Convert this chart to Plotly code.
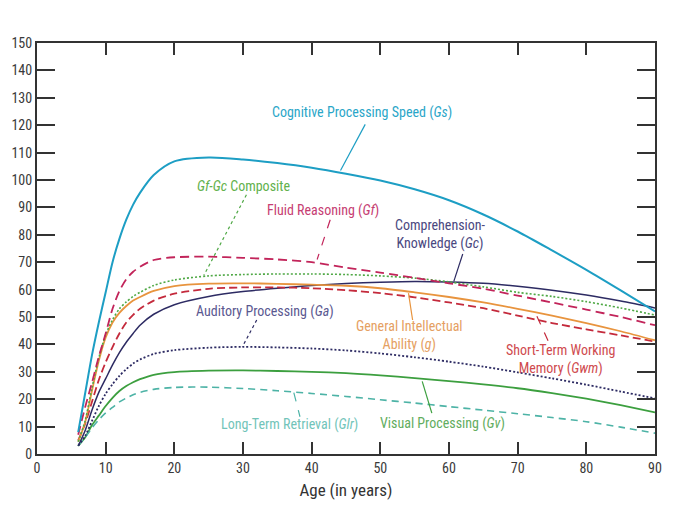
import plotly.graph_objects as go

ages = [6, 7, 8, 9, 10, 11, 12, 13, 14, 15, 17, 20, 25, 30, 35, 40, 45, 50, 55, 60, 65, 70, 75, 80, 85, 90]

gs = [8, 22, 36, 48, 59, 70, 78.5, 85.5, 91, 95.3, 101.8, 106.8, 108.2, 107.5, 106.2, 104.5, 102.3, 99.8, 96.6, 92.6, 87.4, 81.2, 74.3, 67.2, 59.7, 52]
gf = [7, 17, 26, 35.5, 44, 53, 59.5, 63.8, 66.5, 68.3, 70.8, 71.8, 72, 71.6, 71, 70, 68, 66.2, 64.3, 62.3, 60.3, 57.8, 55.3, 52.7, 50, 47]
gfgc = [4.5, 12, 24, 35, 43.5, 49, 53, 55.5, 57.5, 59, 61.5, 63.5, 65, 65.5, 65.7, 65.7, 65.5, 65, 64.2, 62.8, 61, 59, 57.5, 55.6, 53.3, 50.7]
g = [4.5, 11.5, 23, 34, 42.5, 48, 51.5, 54, 56, 57.3, 59.5, 61.3, 62.2, 62.3, 62.1, 61.8, 61.4, 60.5, 59, 57.3, 55.3, 53, 50.5, 47.8, 44.8, 41.5]
gwm = [5, 11, 19, 27, 33.5, 39, 44, 48, 50.8, 53, 56, 58.5, 60.3, 60.8, 60.8, 60.5, 59.8, 58.7, 57.2, 55.3, 53.2, 50.5, 47.8, 45.5, 43.3, 41]
gc = [3, 8.5, 16, 22.5, 27.5, 32.5, 37, 40.8, 44, 47, 51, 54.5, 57.5, 59.3, 60.5, 61.5, 62.2, 62.7, 63, 62.8, 62.3, 61.2, 59.8, 58, 55.8, 53.3]
ga = [3, 6.5, 12, 17.5, 22, 25.5, 28.5, 31, 33, 34.5, 36.5, 37.9, 38.8, 39.1, 38.9, 38.5, 37.8, 36.7, 35.3, 33.7, 31.9, 29.8, 27.6, 25.3, 22.8, 20.3]
gv = [3, 6, 10.5, 14, 17.5, 20.5, 23, 24.8, 26.2, 27.3, 28.9, 29.9, 30.4, 30.5, 30.3, 30, 29.5, 28.7, 27.7, 26.6, 25.4, 24, 22.2, 20.2, 17.8, 15.2]
glr = [3, 6, 9.5, 12.5, 15, 17, 19, 20.4, 21.6, 22.5, 23.6, 24.3, 24.4, 23.9, 23.1, 22.1, 21, 19.8, 18.6, 17.3, 16, 14.7, 13.3, 11.8, 9.8, 7.6]

# series: name, values, line colour, dash, width
series = [
    ("Gv", gv, "#3c9f3f", "solid", 1.8),
    ("Glr", glr, "#4db3a6", "7px,5px", 1.6),
    ("Ga", ga, "#2d2b63", "2px,2px", 1.8),
    ("Gc", gc, "#2d2b63", "solid", 1.5),
    ("Gwm", gwm, "#c42a3c", "8px,4px", 1.8),
    ("g", g, "#e8943e", "solid", 1.8),
    ("GfGc", gfgc, "#4fa845", "2px,2px", 1.6),
    ("Gf", gf, "#c2245a", "9px,5px", 1.8),
    ("Gs", gs, "#1d9ec4", "solid", 2.0),
]

# labels: text, age, value, colour
labels = [
    ("Cognitive Processing Speed (<i>Gs</i>)", 47.3, 124.5, "#2aa6c8"),
    ("<i>Gf-Gc</i> Composite", 30.0, 97.9, "#62b14c"),
    ("Fluid Reasoning (<i>Gf</i>)", 41.7, 88.8, "#c63d72"),
    ("Comprehension-<br>Knowledge (<i>Gc</i>)", 58.7, 80.0, "#4a4880"),
    ("Auditory Processing (<i>Ga</i>)", 33.2, 52.0, "#5a5890"),
    ("General Intellectual<br>Ability (<i>g</i>)", 54.3, 43.2, "#e5a062"),
    ("Short-Term Working<br>Memory (<i>Gwm</i>)", 76.2, 34.6, "#cf4a4e"),
    ("Visual Processing (<i>Gv</i>)", 59.0, 11.0, "#62ad5e"),
    ("Long-Term Retrieval (<i>Glr</i>)", 36.7, 10.6, "#72c4b9"),
]

# leader lines: x0, y0, x1, y1, colour, dash
leaders = [
    (47.8, 120.3, 44.2, 103.5, "#1d9ec4", "solid"),
    (30.5, 94.6, 24.3, 65.2, "#4fa845", "dot"),
    (42.7, 85.5, 40.8, 71.0, "#c2245a", "dash"),
    (62.0, 73.0, 60.7, 63.0, "#2d2b63", "solid"),
    (32.0, 48.9, 29.9, 39.1, "#2d2b63", "dot"),
    (54.1, 58.7, 54.7, 48.9, "#e8943e", "solid"),
    (72.8, 50.3, 74.7, 39.8, "#c42a3c", "dash"),
    (56.1, 26.5, 57.5, 14.9, "#3c9f3f", "solid"),
    (37.4, 22.4, 38.3, 13.6, "#4db3a6", "dash"),
]

FONT = "Roboto Condensed, Liberation Sans Narrow, DejaVu Sans Condensed, sans-serif"

fig = go.Figure()
for name, vals, col, dash, w in series:
    fig.add_trace(go.Scatter(
        x=ages, y=vals, mode="lines", name=name,
        line=dict(color=col, dash=dash, width=w, shape="spline", smoothing=0.8),
        showlegend=False, hoverinfo="skip"))

for x0, y0, x1, y1, col, dash in leaders:
    fig.add_shape(type="line", xref="x", yref="y", x0=x0, y0=y0, x1=x1, y1=y1,
                  line=dict(color=col, width=1.2, dash=dash))

for text, x, y, col in labels:
    fig.add_annotation(x=x, y=y, xref="x", yref="y", text=text, showarrow=False,
                       font=dict(family=FONT, size=14, color=col), align="center",
                       borderpad=0)

axis_common = dict(
    showline=True, linecolor="#333333", linewidth=2, mirror="ticks",
    ticks="inside", tickcolor="#333333", tickwidth=2,
    showgrid=False, zeroline=False, dtick=10,
    tickfont=dict(family=FONT, size=14, color="#3a3a3a"),
)

fig.update_xaxes(range=[0, 90], tick0=0, ticklen=12,
                 title=dict(text="Age (in years)", standoff=9,
                            font=dict(family=FONT, size=17, color="#333333")),
                 **axis_common)
fig.update_yaxes(range=[0, 150], tick0=0, ticklen=18, **axis_common)

fig.update_layout(
    width=680, height=516,
    margin=dict(l=29, r=33, t=35, b=70, autoexpand=False),
    plot_bgcolor="white", paper_bgcolor="white",
    font=dict(family=FONT),
)

fig.write_html("out.html")
